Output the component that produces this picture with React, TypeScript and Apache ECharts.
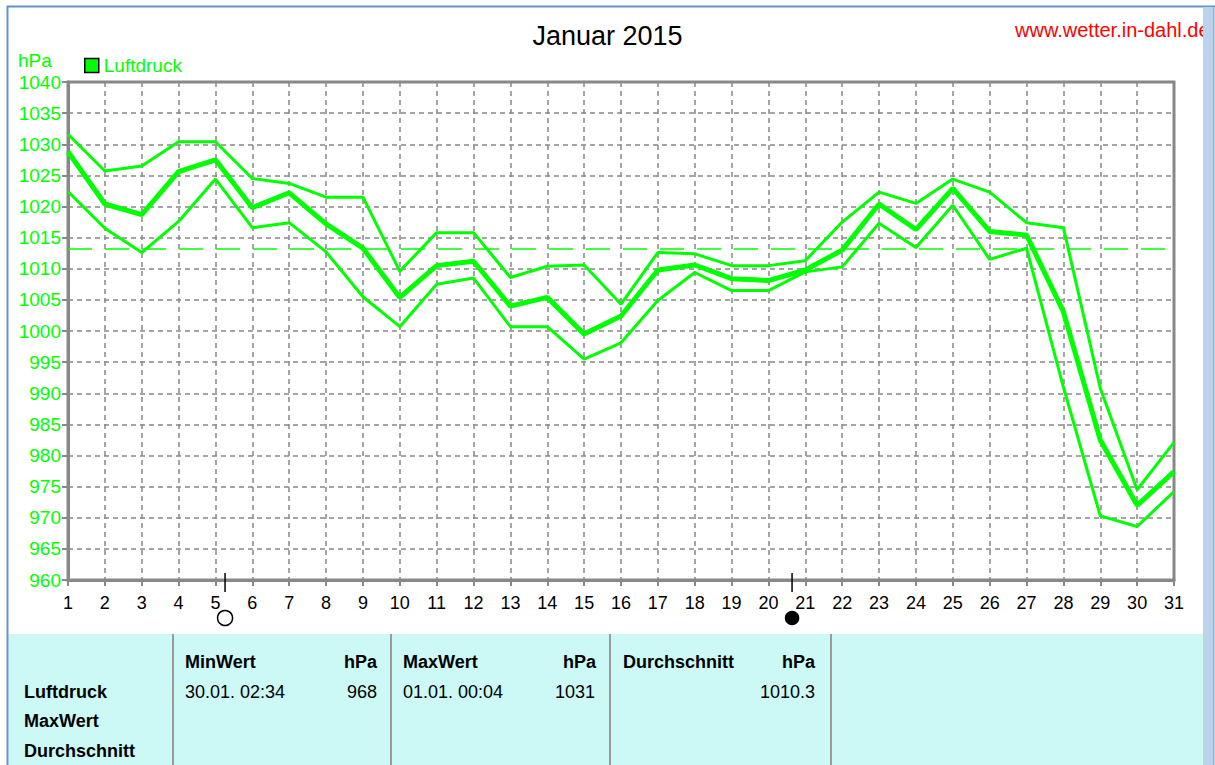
import { useEffect, useRef } from 'react';
import * as echarts from 'echarts';

const FONT = '"Liberation Sans", Arial, sans-serif';
const GREEN = '#00ff00';

const titleText = 'Januar 2015';
const siteText = 'www.wetter.in-dahl.de';
const unitText = 'hPa';
const seriesName = 'Luftdruck';

const days = [1, 2, 3, 4, 5, 6, 7, 8, 9, 10, 11, 12, 13, 14, 15, 16, 17, 18, 19, 20, 21, 22, 23, 24, 25, 26, 27, 28, 29, 30, 31];

const maxValues = [1031.6, 1025.7, 1026.5, 1030.4, 1030.4, 1024.5, 1023.7, 1021.5, 1021.5, 1009.6, 1015.8, 1015.8, 1008.6, 1010.4, 1010.6, 1004.3, 1012.6, 1012.4, 1010.5, 1010.5, 1011.3, 1017.5, 1022.3, 1020.5, 1024.4, 1022.3, 1017.4, 1016.6, 990.8, 974.5, 982.1];
const avgValues = [1028.8, 1020.4, 1018.7, 1025.6, 1027.5, 1019.8, 1022.2, 1017.2, 1013.3, 1005.4, 1010.5, 1011.2, 1004.0, 1005.4, 999.5, 1002.4, 1009.8, 1010.6, 1008.4, 1008.1, 1009.8, 1013.0, 1020.4, 1016.3, 1022.9, 1016.0, 1015.4, 1003.1, 982.5, 972.0, 977.4];
const minValues = [1022.4, 1016.5, 1012.6, 1017.6, 1024.4, 1016.6, 1017.4, 1012.7, 1005.5, 1000.7, 1007.5, 1008.5, 1000.7, 1000.7, 995.5, 998.1, 1004.9, 1009.4, 1006.5, 1006.5, 1009.5, 1010.3, 1017.3, 1013.4, 1020.2, 1011.5, 1013.3, 991.0, 970.3, 968.6, 974.2];

const referenceLevel = 1013.25;

const yMin = 960;
const yMax = 1040;
const yStep = 5;

// moon phases: [day position, filled (1 = new moon, 0 = full moon)]
const moonPhases = [
  [5.26, 0],
  [20.64, 1],
];

// table
const rowLabels = ['Luftdruck', 'MaxWert', 'Durchschnitt'];
const minHeader = ['MinWert', 'hPa'];
const minRow = ['30.01. 02:34', '968'];
const maxHeader = ['MaxWert', 'hPa'];
const maxRow = ['01.01. 00:04', '1031'];
const avgHeader = ['Durchschnitt', 'hPa'];
const avgRow = ['', '1010.3'];

function txt(x: number, y: number, text: string, opts: any = {}) {
  return {
    type: 'text',
    x,
    y,
    z: 10,
    style: {
      text,
      fill: opts.fill || '#000',
      fontSize: opts.fontSize || 18,
      fontFamily: FONT,
      fontWeight: opts.bold ? 'bold' : 'normal',
      align: opts.align || 'left',
      verticalAlign: 'middle',
    },
  };
}

export default function App() {
  const ref = useRef<HTMLDivElement>(null);

  useEffect(() => {
    const chart = echarts.init(ref.current!, null, { renderer: 'svg' });

    const lineSeries = (data: number[], width: number, extra: any = {}) => ({
      type: 'line',
      name: seriesName,
      data: days.map((d, i) => [d, data[i]]),
      symbol: 'none',
      lineStyle: { color: GREEN, width },
      itemStyle: { color: GREEN },
      z: 5,
      ...extra,
    });

    const tableTop = 634;
    const seps = [173, 391, 610, 831];

    chart.setOption({
      animation: false,
      backgroundColor: '#ffffff',
      title: {
        text: titleText,
        left: 'center',
        top: 17,
        textStyle: { fontSize: 27, fontWeight: 'normal', color: '#000', fontFamily: FONT },
      },
      legend: {
        data: [seriesName],
        left: 84,
        top: 56,
        padding: 0,
        icon: 'rect',
        itemWidth: 14,
        itemHeight: 14,
        itemStyle: { color: GREEN, borderColor: '#000', borderWidth: 1.5 },
        textStyle: { color: GREEN, fontSize: 19, fontFamily: FONT },
        selectedMode: false,
      },
      grid: {
        left: 68,
        right: 41,
        top: 82,
        bottom: 185,
        show: true,
        borderColor: '#888',
        borderWidth: 3,
        backgroundColor: '#fff',
      },
      xAxis: {
        type: 'value',
        min: 1,
        max: 31,
        interval: 1,
        axisLine: { show: true, lineStyle: { color: '#888', width: 3 } },
        axisTick: { show: true, length: 6, lineStyle: { color: '#888', width: 2 } },
        axisLabel: { color: '#000', fontSize: 18, fontFamily: FONT, margin: 14, formatter: (v: number) => String(v) },
        splitLine: { show: true, lineStyle: { color: '#888', type: [5, 4], width: 1.5 } },
      },
      yAxis: {
        type: 'value',
        min: yMin,
        max: yMax,
        interval: yStep,
        axisLine: { show: true, lineStyle: { color: '#888', width: 3 } },
        axisTick: { show: true, length: 6, lineStyle: { color: '#888', width: 2 } },
        axisLabel: { color: GREEN, fontSize: 19, fontFamily: FONT, margin: 7, formatter: (v: number) => String(v) },
        splitLine: { show: true, lineStyle: { color: '#888', type: [5, 4], width: 1.5 } },
      },
      series: [
        lineSeries(maxValues, 3),
        lineSeries(avgValues, 5, {
          markLine: {
            silent: true,
            symbol: 'none',
            label: { show: false },
            lineStyle: { color: GREEN, type: [24, 13], width: 1.5 },
            data: [{ yAxis: referenceLevel }],
          },
        }),
        lineSeries(minValues, 3),
        {
          type: 'custom',
          name: 'Mond',
          clip: false,
          z: 6,
          data: moonPhases,
          renderItem: (params: any, api: any) => {
            const p = api.coord([api.value(0), yMin]);
            const filled = api.value(1) === 1;
            return {
              type: 'group',
              children: [
                {
                  type: 'line',
                  shape: { x1: p[0], y1: p[1] - 7, x2: p[0], y2: p[1] + 12 },
                  style: { stroke: '#000', lineWidth: 1.5 },
                },
                {
                  type: 'circle',
                  shape: { cx: p[0], cy: p[1] + 38, r: filled ? 6.5 : 7.5 },
                  style: { fill: filled ? '#000' : '#fff', stroke: '#000', lineWidth: 1.5 },
                },
              ],
            };
          },
        },
      ],
      graphic: [
        // window chrome
        { type: 'line', z: 20, shape: { x1: 7, y1: 6.5, x2: 1215, y2: 6.5 }, style: { stroke: '#6591cc', lineWidth: 2 } },
        { type: 'line', z: 20, shape: { x1: 7.5, y1: 6, x2: 7.5, y2: 765 }, style: { stroke: '#6591cc', lineWidth: 2 } },
        txt(1015, 30, siteText, { fill: '#ff0000', fontSize: 20 }),
        { type: 'rect', z: 30, shape: { x: 1203, y: 7, width: 12, height: 758 }, style: { fill: '#bcd3ec' } },
        { type: 'line', z: 31, shape: { x1: 1213.5, y1: 7, x2: 1213.5, y2: 765 }, style: { stroke: '#8fb3dd', lineWidth: 1 } },
        txt(18, 60, unitText, { fill: GREEN, fontSize: 19 }),
        // table
        { type: 'rect', z: 8, shape: { x: 8.5, y: tableTop, width: 1194.5, height: 765 - tableTop }, style: { fill: '#ccf8f5' } },
        ...seps.map((sx) => ({
          type: 'line',
          z: 9,
          shape: { x1: sx, y1: tableTop, x2: sx, y2: 765 },
          style: { stroke: '#9a9a9a', lineWidth: 2 },
        })),
        txt(24, 692, rowLabels[0], { bold: true }),
        txt(24, 721, rowLabels[1], { bold: true }),
        txt(24, 751, rowLabels[2], { bold: true }),
        txt(185, 662, minHeader[0], { bold: true }),
        txt(377, 662, minHeader[1], { bold: true, align: 'right' }),
        txt(185, 692, minRow[0]),
        txt(377, 692, minRow[1], { align: 'right' }),
        txt(403, 662, maxHeader[0], { bold: true }),
        txt(596, 662, maxHeader[1], { bold: true, align: 'right' }),
        txt(403, 692, maxRow[0]),
        txt(595, 692, maxRow[1], { align: 'right' }),
        txt(623, 662, avgHeader[0], { bold: true }),
        txt(815, 662, avgHeader[1], { bold: true, align: 'right' }),
        txt(815, 692, avgRow[1], { align: 'right' }),
      ],
    });

    return () => chart.dispose();
  }, []);

  return (
    <div
      ref={ref}
      style={{ position: 'absolute', left: 0, top: 0, width: 1215, height: 765, background: '#fff' }}
    />
  );
}
